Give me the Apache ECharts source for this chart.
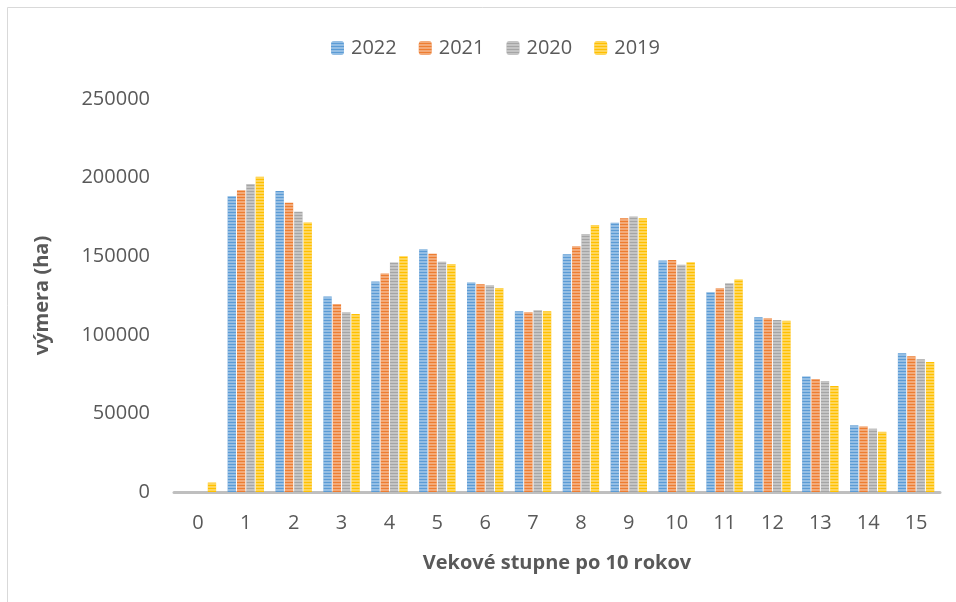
<!DOCTYPE html>
<html><head><meta charset="utf-8">
<script src="https://cdn.jsdelivr.net/npm/echarts@6/dist/echarts.min.js"></script>
<style>html,body{margin:0;padding:0;background:#fff}#c{width:956px;height:602px}</style>
</head><body><div id="c"></div>
<script>
const categories = ['0','1','2','3','4','5','6','7','8','9','10','11','12','13','14','15'];
const seriesNames = ['2022','2021','2020','2019'];
const v2022 = [0,188200,191400,124300,133900,154500,133200,115000,151300,171200,147300,127100,111100,73400,42400,88200];
const v2021 = [0,192000,184000,119600,139000,151500,132200,114300,156400,174200,147600,129600,110500,71900,41700,86300];
const v2020 = [0,195900,178200,114300,146000,146400,131500,115600,164200,175300,144500,132800,109400,70600,40300,84400];
const v2019 = [6000,200500,171500,113200,150000,145100,129800,115000,169900,174200,146200,135200,109000,67400,38300,82700];
const yTicks = [0,50000,100000,150000,200000,250000];
const colors = ['#5B9BD5','#ED7D31','#A5A5A5','#FFC000'];
const values = [v2022,v2021,v2020,v2019];

const chart = echarts.init(document.getElementById('c'));
const font = "'Open Sans', sans-serif";
const decal = {symbol:'rect', symbolSize:1, dashArrayX:[1,0], dashArrayY:[2,1], color:'rgba(255,255,255,0.35)', rotation:0};
chart.setOption({
  animation:false,
  backgroundColor:'#fff',
  graphic:[{type:'rect', shape:{x:7.5,y:7.5,width:960,height:600}, style:{fill:'none', stroke:'#D9D9D9', lineWidth:1}, silent:true}],
  legend:{
    top:33, left:326, itemWidth:13, itemHeight:14, itemGap:22,
    textStyle:{fontFamily:font, fontSize:20, color:'#595959', padding:[0,0,0,2]},
    data:seriesNames
  },
  grid:{left:174, right:16, top:99, bottom:110},
  xAxis:{
    type:'category', data:categories,
    name:'Vekové stupne po 10 rokov', nameLocation:'middle', nameGap:61,
    nameTextStyle:{fontFamily:font, fontSize:20, fontWeight:'bold', color:'#595959'},
    axisLine:{lineStyle:{color:'#BFBFBF', width:3}},
    axisTick:{show:false},
    axisLabel:{fontFamily:font, fontSize:20, color:'#595959', margin:21}
  },
  yAxis:{
    type:'value', min:0, max:250000, interval:50000,
    name:'výmera (ha)', nameLocation:'middle', nameGap:122, nameRotate:90,
    nameTextStyle:{fontFamily:font, fontSize:20, fontWeight:'bold', color:'#595959'},
    axisLine:{show:false}, axisTick:{show:false}, splitLine:{show:false},
    axisLabel:{fontFamily:font, fontSize:20, color:'#595959', margin:24,
      formatter:v=>yTicks.includes(v)?String(v):''}
  },
  series: seriesNames.map((n,i)=>({
    name:n, type:'bar', data:values[i],
    barGap:'12%', barCategoryGap:'24%',
    itemStyle:{color:colors[i], decal:decal}
  }))
});
</script></body></html>
